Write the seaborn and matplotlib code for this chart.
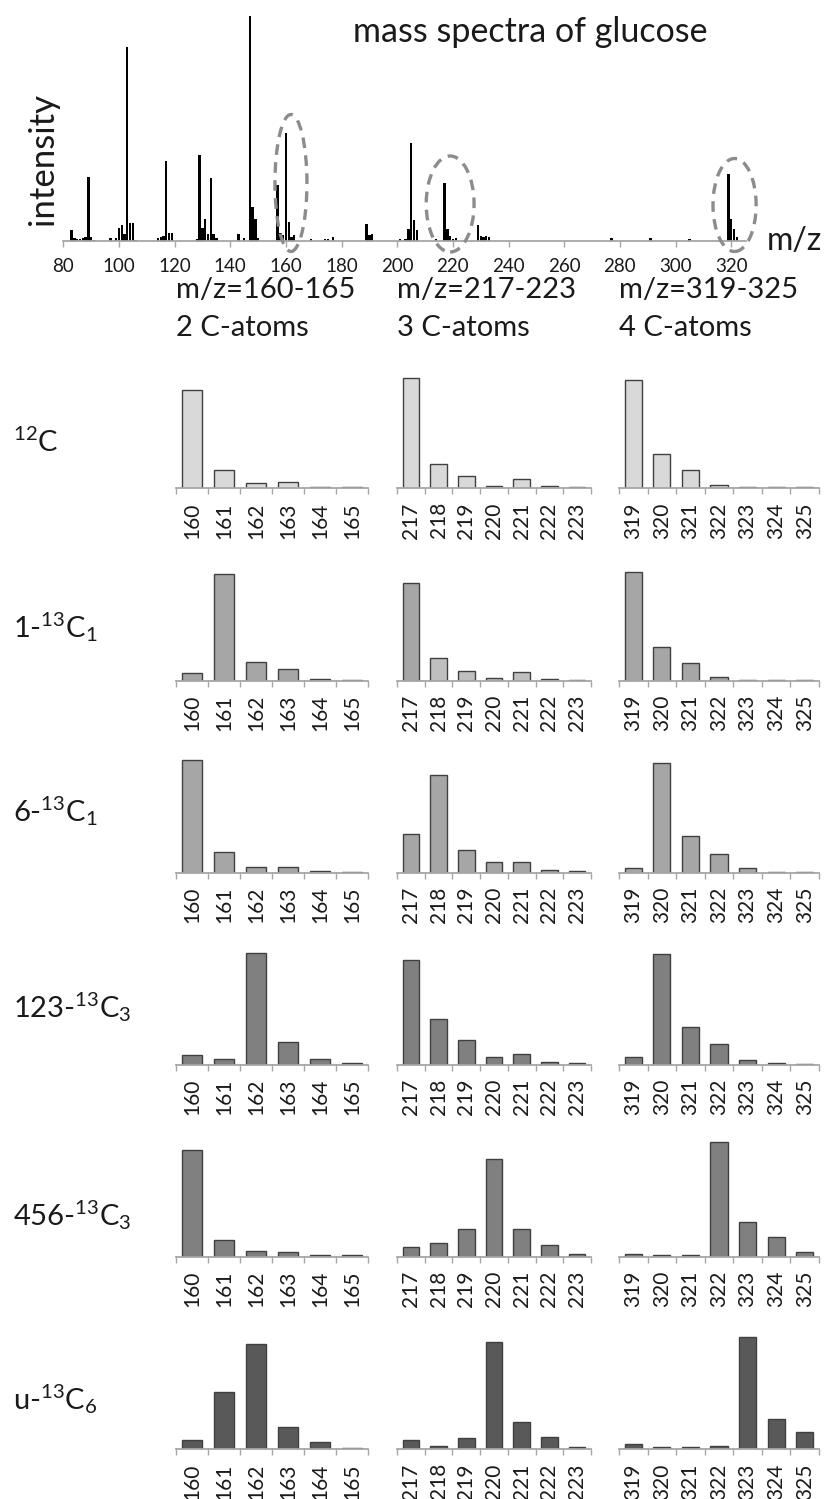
import numpy as np
import pandas as pd
import matplotlib
matplotlib.use("Agg")
import matplotlib.pyplot as plt
import seaborn as sns
from matplotlib.patches import Ellipse

sns.set_theme(style="white")
plt.rcParams["font.family"] = ["Lato", "DejaVu Sans"]
plt.rcParams["mathtext.fontset"] = "custom"
plt.rcParams["mathtext.rm"] = "Lato"
plt.rcParams["mathtext.it"] = "Lato:italic"
plt.rcParams["mathtext.bf"] = "Lato:bold"

# ---------------- data: full mass spectrum (relative intensity) ----------------
spectrum_mz = [83, 84, 85, 86, 87, 88, 89, 90, 91, 97, 99, 100, 101, 102, 103, 104, 105, 106,
               114, 115, 116, 117, 118, 119, 128, 129, 130, 131, 132, 133, 134, 135, 143, 145,
               147, 148, 149, 150, 157, 158, 159, 160, 161, 162, 163, 169, 174, 175, 177,
               189, 190, 191, 201, 203, 204, 205, 206, 207, 214, 217, 218, 219, 220, 221,
               229, 230, 231, 232, 233, 277, 291, 305, 319, 320, 321, 322]
spectrum_int = [11, 3, 2, 2, 3, 4, 64, 4, 1, 3, 3, 13, 16, 7, 194, 18, 18, 1,
                3, 4, 5, 80, 8, 8, 2, 86, 13, 22, 7, 63, 7, 3, 7, 3,
                225, 34, 22, 3, 56, 8, 6, 108, 19, 4, 6, 2, 2, 2, 4,
                17, 6, 7, 2, 2, 12, 98, 21, 11, 2, 58, 12, 5, 2, 3,
                16, 5, 4, 5, 4, 3, 3, 2, 67, 22, 12, 4]
spectrum_ticks = list(range(80, 321, 20))

# ---------------- data: fragment isotopologue distributions ----------------
fragment_titles = ["m/z=160-165", "m/z=217-223", "m/z=319-325"]
fragment_atoms = ["2 C-atoms", "3 C-atoms", "4 C-atoms"]
frag160_mz = ["160", "161", "162", "163", "164", "165"]
frag217_mz = ["217", "218", "219", "220", "221", "222", "223"]
frag319_mz = ["319", "320", "321", "322", "323", "324", "325"]

isotopomers = [r"$^{12}$C", r"1-$^{13}$C$_1$", r"6-$^{13}$C$_1$",
               r"123-$^{13}$C$_3$", r"456-$^{13}$C$_3$", r"u-$^{13}$C$_6$"]

c12_f160 = [98.3, 18.3, 5.0, 6.7, 1.0, 1.0]
c12_f217 = [110.7, 24.0, 12.0, 2.7, 9.0, 2.7, 1.7]
c12_f319 = [108.3, 34.0, 18.0, 3.7, 1.0, 1.0, 1.0]

c1_f160 = [7.7, 107.0, 18.7, 12.3, 2.3, 1.0]
c1_f217 = [97.7, 22.7, 10.3, 3.3, 8.7, 2.0, 1.0]
c1_f319 = [109.0, 34.0, 17.7, 4.3, 1.0, 1.0, 1.0]

c6_f160 = [112.7, 21.0, 6.0, 6.0, 2.0, 1.0]
c6_f217 = [38.3, 97.7, 22.3, 10.7, 10.7, 3.0, 2.0]
c6_f319 = [5.0, 109.3, 36.3, 19.0, 5.0, 1.0, 1.0]

c123_f160 = [10.3, 6.0, 111.7, 23.3, 6.0, 1.7]
c123_f217 = [105.0, 45.7, 25.3, 8.3, 11.3, 3.3, 2.3]
c123_f319 = [8.3, 110.7, 37.7, 20.7, 5.3, 2.3, 1.3]

c456_f160 = [106.3, 16.7, 5.3, 4.3, 1.3, 1.3]
c456_f217 = [9.7, 14.0, 28.0, 98.0, 28.0, 11.7, 2.7]
c456_f319 = [3.0, 2.0, 2.0, 115.0, 34.7, 19.3, 4.3]

cu_f160 = [9.0, 57.0, 105.7, 22.3, 7.0, 1.3]
cu_f217 = [9.0, 3.7, 11.0, 107.7, 27.7, 12.0, 2.0]
cu_f319 = [5.7, 2.0, 2.0, 3.7, 112.7, 30.3, 17.0]

row_values = [
    [c12_f160, c12_f217, c12_f319],
    [c1_f160, c1_f217, c1_f319],
    [c6_f160, c6_f217, c6_f319],
    [c123_f160, c123_f217, c123_f319],
    [c456_f160, c456_f217, c456_f319],
    [cu_f160, cu_f217, cu_f319],
]
frag_mz = [frag160_mz, frag217_mz, frag319_mz]

row_colors = ["#D9D9D9", "#A6A6A6", "#A6A6A6", "#808080", "#808080", "#595959"]
light_override = "#BFBFBF"   # lighter bars in 1-13C1, fragment 217

# ---------------- figure layout (pixels) ----------------
W, H = 826, 1499
fig = plt.figure(figsize=(W / 100, H / 100), dpi=100)

def rect(left, base_y, width, height):
    return [left / W, 1 - base_y / H, width / W, height / H]

AX_GRAY = "#A6A6A6"
TXT = "#1a1a1a"

# ---------------- top spectrum ----------------
x_left, x_right, base0, top0 = 63.3, 746.0, 241.0, 16.0
ax0 = fig.add_axes(rect(x_left, base0, x_right - x_left, base0 - top0))
spec_df = pd.DataFrame({"mz": spectrum_mz, "intensity": spectrum_int})
sns.barplot(data=spec_df, x="mz", y="intensity", native_scale=True, width=0.85,
            color="black", saturation=1, errorbar=None, ax=ax0, linewidth=0)
ax0.set_xlim(80, 80 + (x_right - x_left) / 2.783)
ax0.set_ylim(0, max(spectrum_int))
ax0.set_xticks(spectrum_ticks)
ax0.set_xticklabels([str(t) for t in spectrum_ticks])
ax0.set_yticks([])
ax0.set_xlabel("")
ax0.set_ylabel("")
for s in ["top", "right", "left"]:
    ax0.spines[s].set_visible(False)
ax0.spines["bottom"].set_color(AX_GRAY)
ax0.spines["bottom"].set_linewidth(1.3)
ax0.tick_params(axis="x", bottom=True, length=4, width=1, color=AX_GRAY,
                labelsize=13.5, labelcolor=TXT, pad=8)

ell_style = dict(fill=False, edgecolor="#8C8C8C", linewidth=2.4, linestyle=(0, (3.2, 2.2)),
                 clip_on=False, zorder=5)
for (cx, cy, ew, eh) in [(161.8, 58, 11.5, 137), (219.0, 37, 17.2, 96), (321.2, 36, 15.5, 93)]:
    ax0.add_patch(Ellipse((cx, cy), ew, eh, **ell_style))

fig.text(353 / W, 1 - 42 / H, "mass spectra of glucose", fontsize=24.5, color=TXT,
         ha="left", va="baseline")
fig.text(43 / W, 1 - 159 / H, "intensity", fontsize=25, color=TXT, rotation=90,
         ha="center", va="center")
fig.text(767 / W, 1 - 250 / H, "m/z", fontsize=23, color=TXT, ha="left", va="baseline")

# ---------------- fragment panels ----------------
col_left = [176, 397, 619]
col_width = [192, 194, 200]
row_base = [488.3, 681.0, 872.7, 1065.0, 1256.7, 1449.3]
panel_h = 120.0
label_base = [452, 637, 822, 1017, 1226, 1410]

for j in range(3):
    fig.text(col_left[j] / W, 1 - 298 / H, fragment_titles[j], fontsize=21, color=TXT,
             ha="left", va="baseline")
    fig.text(col_left[j] / W, 1 - 336 / H, fragment_atoms[j], fontsize=21, color=TXT,
             ha="left", va="baseline")

for i in range(6):
    fig.text(13 / W, 1 - label_base[i] / H, isotopomers[i], fontsize=21, color=TXT,
             ha="left", va="baseline")
    for j in range(3):
        ax = fig.add_axes(rect(col_left[j], row_base[i], col_width[j], panel_h))
        labels = frag_mz[j]
        vals = row_values[i][j]
        cols = [row_colors[i]] * len(labels)
        if i == 1 and j == 1:
            cols = [row_colors[i]] + [light_override] * (len(labels) - 1)
        df = pd.DataFrame({"mz": labels, "val": vals})
        sns.barplot(data=df, x="mz", y="val", hue="mz", palette=cols, legend=False,
                    width=0.6, saturation=1, edgecolor="#404040", linewidth=1.0,
                    errorbar=None, ax=ax)
        n = len(labels)
        ax.set_xlim(-0.5, n - 0.5)
        ax.set_ylim(0, panel_h)
        ax.set_yticks([])
        ax.set_xticks(np.arange(n + 1) - 0.5)
        ax.set_xticklabels([""] * (n + 1))
        ax.set_xticks(np.arange(n), minor=True)
        ax.set_xticklabels(labels, minor=True, rotation=90)
        ax.tick_params(axis="x", which="major", bottom=True, length=4.3, width=1, color=AX_GRAY)
        ax.tick_params(axis="x", which="minor", bottom=True, length=0, labelsize=15,
                       labelcolor=TXT, pad=10)
        ax.set_xlabel("")
        ax.set_ylabel("")
        for s in ["top", "right", "left"]:
            ax.spines[s].set_visible(False)
        ax.spines["bottom"].set_color(AX_GRAY)
        ax.spines["bottom"].set_linewidth(1.3)

fig.savefig("out.png", dpi=100, facecolor="white")
